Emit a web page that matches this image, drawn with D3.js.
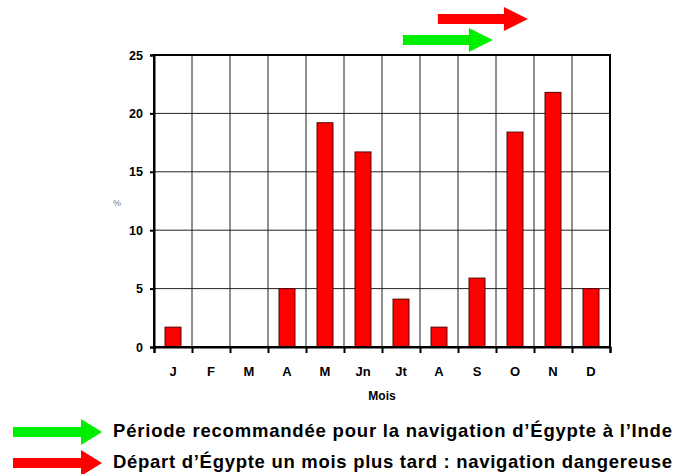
<!DOCTYPE html>
<html>
<head>
<meta charset="utf-8">
<script src="https://cdn.jsdelivr.net/npm/d3@7"></script>
<style>
  body { margin: 0; background: #fff; }
  svg { display: block; font-family: "Liberation Sans", Arial, sans-serif; }
</style>
</head>
<body>
<svg id="chart" width="681" height="474"></svg>
<script>
// month labels and percentages
const months = ["J", "F", "M", "A", "M", "Jn", "Jt", "A", "S", "O", "N", "D"];
const values = [1.7, 0, 0, 5.0, 19.2, 16.7, 4.1, 1.7, 5.9, 18.4, 21.8, 5.0];
const yTicks = [0, 5, 10, 15, 20, 25];

// arrows above the plot, in month units (index of band start)
const arrows = [
    {color: "#00ee00", from: 6.55, to: 8.92, row: 1},
    {color: "#ff0000", from: 7.47, to: 9.84, row: 0}
];
const legendItems = [
    {color: "#00ee00", label: "Période recommandée pour la navigation d’Égypte à l’Inde"},
    {color: "#ff0000", label: "Départ d’Égypte un mois plus tard : navigation dangereuse"}
];

const svg = d3.select("#chart");
const margin = {left: 154, right: 71, top: 55, bottom: 127};
const width = 681 - margin.left - margin.right;
const height = 474 - margin.top - margin.bottom;

const x = d3.scaleBand().domain(d3.range(months.length)).range([0, width]);
const xm = d3.scaleLinear().domain([0, months.length]).range([0, width]);
const y = d3.scaleLinear().domain([0, 25]).range([height, 0]);

const g = svg.append("g").attr("transform", `translate(${margin.left},${margin.top})`);

// horizontal grid
g.selectAll(".hgrid")
    .data(yTicks)
    .enter()
    .append("line")
    .attr("x1", 0).attr("x2", width)
    .attr("y1", d => y(d)).attr("y2", d => y(d))
    .attr("stroke", "#222").attr("stroke-width", 1);

// vertical grid at band boundaries
g.selectAll(".vgrid")
    .data(d3.range(1, months.length))
    .enter()
    .append("line")
    .attr("x1", d => xm(d)).attr("x2", d => xm(d))
    .attr("y1", 0).attr("y2", height)
    .attr("stroke", "#222").attr("stroke-width", 1);

// bars (zero months have none)
const barW = x.bandwidth() * 0.42;
g.selectAll(".bar")
    .data(values.map((v, i) => ({v, i})).filter(d => d.v > 0))
    .enter()
    .append("rect")
    .attr("x", d => x(d.i) + (x.bandwidth() - barW) / 2)
    .attr("y", d => y(d.v))
    .attr("width", barW)
    .attr("height", d => height - y(d.v))
    .attr("fill", "#ff0000")
    .attr("stroke", "#550000")
    .attr("stroke-width", 1);

// frame
g.append("rect")
    .attr("x", 0).attr("y", 0)
    .attr("width", width).attr("height", height)
    .attr("fill", "none").attr("stroke", "#000").attr("stroke-width", 2);

// y axis
const yAxis = g.append("g")
    .call(d3.axisLeft(y).tickValues(yTicks).tickSize(4).tickPadding(7));
yAxis.select(".domain").attr("stroke-width", 2);
yAxis.selectAll(".tick line").attr("stroke-width", 2);
yAxis.selectAll("text")
    .style("font-size", "12.5px").style("font-weight", "bold")
    .style("font-family", "'Liberation Sans', Arial, sans-serif");

// x axis: ticks at band boundaries, labels in bands
const xAxis = g.append("g")
    .attr("transform", `translate(0,${height})`)
    .call(d3.axisBottom(xm).tickValues(d3.range(0, months.length + 1)).tickSize(6).tickFormat(""));
xAxis.select(".domain").attr("stroke-width", 2);
xAxis.selectAll(".tick line").attr("stroke-width", 2);

g.selectAll(".xlab")
    .data(months)
    .enter()
    .append("text")
    .attr("x", (d, i) => x(i) + x.bandwidth() / 2)
    .attr("y", height + 29)
    .attr("text-anchor", "middle")
    .style("font-size", "13px").style("font-weight", "bold")
    .text(d => d);

g.append("text")
    .attr("x", width / 2)
    .attr("y", height + 53)
    .attr("text-anchor", "middle")
    .style("font-size", "12px").style("font-weight", "bold")
    .text("Mois");

g.append("text")
    .attr("x", -37)
    .attr("y", y(12.5) + 5)
    .attr("text-anchor", "middle")
    .attr("fill", "#777")
    .style("font-size", "9px")
    .text("%");

// arrow shape: shaft then triangular head
function arrowPath(x0, x1, cy, shaft, head, headLen) {
    const hs = shaft / 2, hh = head / 2, xh = x1 - headLen;
    return `M${x0},${cy - hs}L${xh},${cy - hs}L${xh},${cy - hh}L${x1},${cy}L${xh},${cy + hh}L${xh},${cy + hs}L${x0},${cy + hs}Z`;
}

const rowY = [-36, -15];
g.selectAll(".arrow")
    .data(arrows)
    .enter()
    .append("path")
    .attr("d", d => arrowPath(xm(d.from), xm(d.to), rowY[d.row], 10, 24, 24))
    .attr("fill", d => d.color);

// legend
const legend = svg.append("g");
legendItems.forEach((d, i) => {
    const cy = 432 + i * 31;
    legend.append("path")
        .attr("d", arrowPath(13, 102, cy, 10, 26, 21))
        .attr("fill", d.color);
    legend.append("text")
        .attr("x", 113)
        .attr("y", cy + 5)
        .attr("textLength", 559)
        .attr("lengthAdjust", "spacing")
        .style("font-size", "18.5px").style("font-weight", "bold")
        .text(d.label);
});
</script>
</body>
</html>
